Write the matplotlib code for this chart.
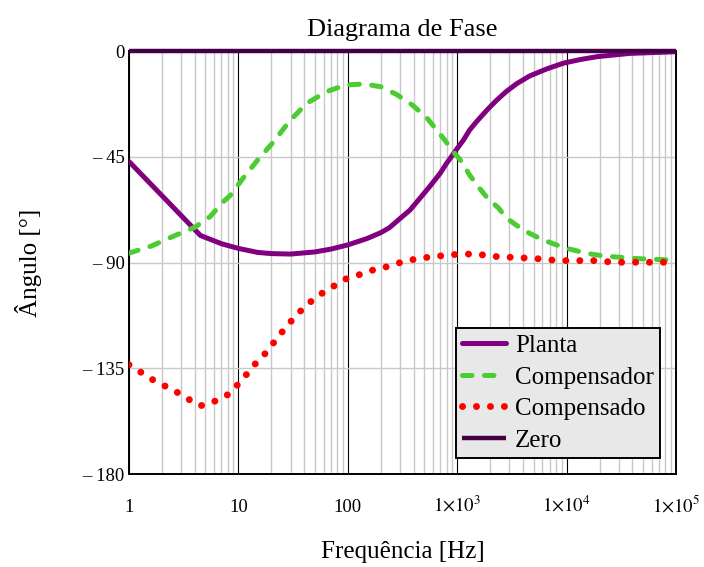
import matplotlib
matplotlib.use("Agg")
import matplotlib.pyplot as plt
from matplotlib.ticker import FixedLocator, LogLocator, NullFormatter

plt.rcParams["font.family"] = ["Liberation Serif", "DejaVu Serif"]
plt.rcParams["mathtext.fontset"] = "stix"

# Phase curves (degrees) read at the frequencies below (Hz)
f_planta = [1, 4.5, 7, 10, 15, 20, 30, 50, 70, 100, 150, 200, 240, 300, 370,
            450, 560, 700, 800, 1000, 1140, 1300, 1500, 1900, 2300, 2800,
            3500, 4600, 6600, 9300, 13400, 19000, 38000, 1e5]
planta = [-47, -78.5, -82, -84, -85.7, -86.2, -86.4, -85.5, -84.3, -82.5,
          -79.8, -77.3, -75.2, -71.3, -67.7, -63, -57.7, -52, -47.8, -41.5,
          -37.9, -33.6, -30.1, -24.8, -20.9, -17.3, -13.9, -10.6, -7.6, -5.2,
          -3.6, -2.4, -1, -0.3]

f_comp = [1, 1.6, 2.7, 4, 5.5, 7.3, 8.4, 11, 15, 21, 29, 42, 64, 94, 140,
          200, 280, 390, 530, 750, 920, 1100, 1300, 1600, 1900, 2400, 2800,
          3650, 4600, 6100, 8200, 10700, 15300, 21800, 31000, 47000, 1e5]
compensador = [-86, -83, -78.3, -75, -70.5, -64.1, -61.5, -54.2, -46.4,
               -38.6, -30.1, -22.3, -17.3, -14.5, -14, -15.2, -18.5, -23,
               -28.5, -37.2, -42.8, -47.1, -52.8, -58.4, -62.7, -66.9, -71,
               -74.8, -77.6, -80.4, -82.6, -84.3, -86.1, -87.2, -87.8, -88.4,
               -89]

f_total = [1, 1.8, 2.5, 3.3, 4.5, 6.1, 8.2, 10.8, 13.7, 18.2, 22.9, 29.5,
           39, 52, 71, 96, 131, 170, 223, 283, 357, 490, 830, 1100, 1500,
           1930, 2540, 3450, 4520, 6100, 8200, 20000, 26000, 1e5]
compensado = [-133.5, -141, -144, -147.5, -151, -149, -146, -140, -134,
              -128, -121.8, -115.6, -109.5, -104.5, -100.6, -97, -95, -93.2,
              -91.9, -90.4, -89.1, -88, -86.8, -86.4, -86.4, -87.1, -87.7,
              -87.8, -88.2, -88.5, -89.2, -89.2, -89.9, -89.9]

f_zero = [1, 1e5]
zero = [0, 0]

xticks = [1, 10, 100, 1e3, 1e4, 1e5]
xlabels = ["1", "10", "100", r"$1{\times}10^{3}$", r"$1{\times}10^{4}$",
           r"$1{\times}10^{5}$"]
yticks = [0, -45, -90, -135, -180]
ylabels = ["0", "\u2013 45", "\u2013 90", "\u2013 135", "\u2013 180"]

fig = plt.figure(figsize=(7.04, 5.67), dpi=100)
ax = fig.add_axes([0.1832, 0.164, 0.777, 0.746])

ax.plot(f_planta, planta, color="#800080", lw=3.6, label="Planta",
        solid_capstyle="round", solid_joinstyle="round", zorder=4)
ax.plot(f_comp, compensador, color="#4ccc33", lw=3.6, label="Compensador",
        dashes=(1.9, 2.5), dash_capstyle="round", zorder=4)
ax.plot(f_total, compensado, color="#ff0000", lw=5, label="Compensado",
        dashes=(0.01, 2.0), dash_capstyle="round", zorder=4)
ax.plot(f_zero, zero, color="#440044", lw=3.2, label="Zero",
        solid_capstyle="butt", zorder=5, clip_on=False)

ax.set_xscale("log")
ax.set_xlim(1, 1e5)
ax.set_ylim(-180, 0)

ax.xaxis.set_major_locator(FixedLocator(xticks))
ax.xaxis.set_minor_locator(LogLocator(base=10, subs=range(2, 10), numticks=20))
ax.xaxis.set_minor_formatter(NullFormatter())
ax.set_xticklabels(xlabels)
ax.set_yticks(yticks)
ax.set_yticklabels(ylabels)

ax.grid(True, which="minor", axis="x", color="#c8c8c8", lw=1.0)
ax.grid(True, which="major", axis="x", color="#000000", lw=0.8)
ax.grid(True, which="major", axis="y", color="#c8c8c8", lw=1.0)
ax.set_axisbelow(True)

ax.tick_params(axis="both", which="both", length=0, labelsize=13.5)
ax.tick_params(axis="x", pad=27)
ax.tick_params(axis="y", pad=3)
for lab in ax.get_xticklabels():
    lab.set_verticalalignment("baseline")

for side in ["left", "bottom", "right", "top"]:
    ax.spines[side].set_color("black")
    ax.spines[side].set_linewidth(1.4)

ax.set_title("Diagrama de Fase", fontsize=19, pad=11)
ax.set_xlabel("Frequência [Hz]", fontsize=18, labelpad=18)
ax.set_ylabel("Ângulo [°]", fontsize=18, labelpad=29)

leg = ax.legend(loc="lower right", bbox_to_anchor=(0.971, 0.038),
                fontsize=18, fancybox=False, frameon=True,
                facecolor="#e8e8e8", edgecolor="black", framealpha=1,
                handlelength=1.75, handletextpad=0.35, borderpad=0.25,
                labelspacing=0.36, borderaxespad=0)
leg.get_frame().set_linewidth(1.4)

fig.savefig("out.png", dpi=100)
